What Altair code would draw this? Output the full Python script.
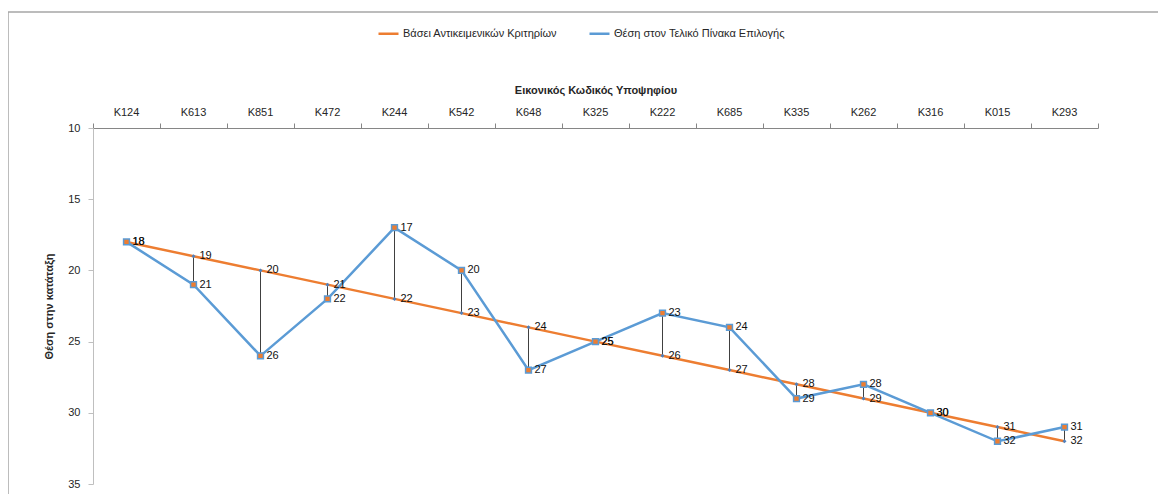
import altair as alt
import pandas as pd

cats = ["K124", "K613", "K851", "K472", "K244", "K542", "K648", "K325",
        "K222", "K685", "K335", "K262", "K316", "K015", "K293"]
objective = [18, 19, 20, 21, 22, 23, 24, 25, 26, 27, 28, 29, 30, 31, 32]
final = [18, 21, 26, 22, 17, 20, 27, 25, 23, 24, 29, 28, 30, 32, 31]

S1 = "Βάσει Αντικειμενικών Κριτηρίων"
S2 = "Θέση στον Τελικό Πίνακα Επιλογής"
ORANGE = "#ED7D31"
BLUE = "#5B9BD5"
FONT = "Liberation Sans"

wide = pd.DataFrame({"cat": cats, "obj": objective, "fin": final})
long = pd.concat([
    pd.DataFrame({"cat": cats, "series": S1, "value": objective}),
    pd.DataFrame({"cat": cats, "series": S2, "value": final}),
])

W, H = 1005, 356

xenc = alt.X("cat:N", sort=cats,
             scale=alt.Scale(type="band", paddingInner=0, paddingOuter=0),
             axis=alt.Axis(orient="top", title="Εικονικός Κωδικός Υποψηφίου",
                           titleFontWeight="bold", titleFontSize=11, titleFont=FONT,
                           titlePadding=11, labelAngle=0, labelFont=FONT,
                           labelFontSize=11, labelColor="#262626", labelPadding=6,
                           bandPosition=1, tickExtra=True, tickSize=5, grid=False,
                           tickColor="#868686", domainColor="#868686",
                           titleColor="#262626"))
yscale = alt.Scale(domain=[10, 35], reverse=True, nice=False, zero=False)
yenc = alt.Y("value:Q", scale=yscale,
             axis=alt.Axis(title="Θέση στην κατάταξη", titleFontWeight="bold",
                           titleFont=FONT, titleFontSize=11, titlePadding=13,
                           values=[10, 15, 20, 25, 30, 35], labelFont=FONT,
                           labelFontSize=11, labelColor="#262626", labelPadding=8,
                           tickSize=5, tickColor="#bfbfbf", domainColor="#bfbfbf",
                           grid=False, titleColor="#262626"))

color = alt.Color("series:N",
                  scale=alt.Scale(domain=[S1, S2], range=[ORANGE, BLUE]),
                  legend=alt.Legend(orient="none", legendX=284, legendY=-106,
                                    direction="horizontal", title=None,
                                    symbolType="stroke", symbolSize=400,
                                    symbolStrokeWidth=2.5, labelFont=FONT,
                                    labelFontSize=11, labelColor="#262626",
                                    labelLimit=400, columnPadding=26,
                                    labelOffset=3))

base = alt.Chart(long)

lines = base.mark_line(strokeWidth=2.5).encode(
    x=xenc, y=yenc, color=color, detail="series:N", order=alt.Order("series:N"))

rules = alt.Chart(wide).mark_rule(color="#404040", strokeWidth=1).encode(
    x=alt.X("cat:N", sort=cats), y=alt.Y("obj:Q", scale=yscale), y2="fin:Q")

pts1 = alt.Chart(wide).mark_point(shape="diamond", filled=True, size=16,
                                  color="#4F81BD", opacity=1).encode(
    x=alt.X("cat:N", sort=cats), y=alt.Y("obj:Q", scale=yscale))

pts2 = alt.Chart(wide).mark_point(shape="square", filled=True, size=34,
                                  fill=ORANGE, stroke=BLUE, strokeWidth=1.5,
                                  opacity=1).encode(
    x=alt.X("cat:N", sort=cats), y=alt.Y("fin:Q", scale=yscale))

texts = base.mark_text(align="left", baseline="middle", dx=6, font=FONT,
                       fontSize=11, color="#111111").encode(
    x=alt.X("cat:N", sort=cats), y=alt.Y("value:Q", scale=yscale),
    text="value:Q")

dummy = pd.DataFrame({"a": [0]})
frame_top = alt.Chart(dummy).mark_rule(color="#a6a6a6", strokeWidth=1.5).encode(
    x=alt.value(-85), x2=alt.value(1100), y=alt.value(-116))
frame_left = alt.Chart(dummy).mark_rule(color="#a6a6a6", strokeWidth=1.5).encode(
    x=alt.value(-85), y=alt.value(-116), y2=alt.value(380))

chart = alt.layer(frame_top, frame_left, lines, rules, pts1, pts2, texts).properties(
    width=W, height=H,
    background="white",
    autosize=alt.AutoSizeParams(type="none"),
    padding={"left": 85, "top": 120, "right": 60, "bottom": 10},
).configure_view(stroke="transparent", strokeWidth=0)

chart.save("out.html", embed_options={"renderer": "svg", "actions": False})
